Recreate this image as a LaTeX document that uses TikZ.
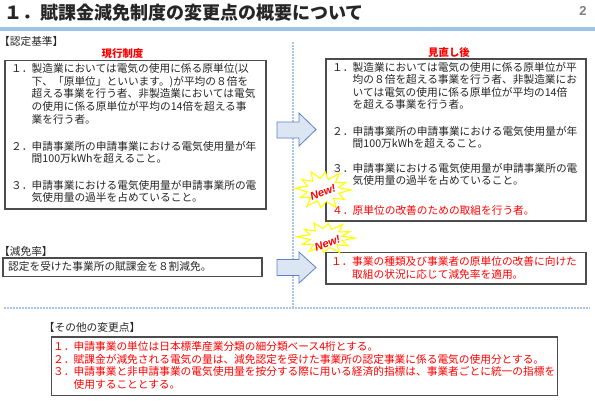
\documentclass[tikz,border=0pt]{standalone}
\usepackage{fontspec}
\setmainfont{Noto Sans CJK JP}
\newfontfamily\latinsans{Liberation Sans}
\definecolor{refred}{HTML}{FF0000}
\definecolor{lineblue}{HTML}{9DC3E6}
\definecolor{dotblue}{HTML}{A9C6E8}
\definecolor{arrowfill}{HTML}{DCE6F2}
\definecolor{arrowdraw}{HTML}{5B82C8}
\definecolor{burstyellow}{HTML}{FFFF00}
\definecolor{bodytext}{HTML}{262626}
\begin{document}
\begin{tikzpicture}[x=1bp,y=-1bp,
  txt/.style={anchor=west, inner sep=0pt, font=\fontsize{10.7bp}{13bp}\selectfont,
    text height=9.4bp, text depth=1.3bp, text=bodytext},
  redtxt/.style={txt, text=refred},
  headtxt/.style={inner sep=0pt, font=\fontsize{10.4bp}{12bp}\selectfont\bfseries,
    text height=9.2bp, text depth=1.2bp, text=refred},
  boxline/.style={draw=black!70, line width=1.2bp, fill=white},
  burst/.style={draw=burstyellow, line width=1.1bp, fill=white},
  newtxt/.style={inner sep=0pt, font=\latinsans\bfseries\itshape\fontsize{11bp}{11bp}\selectfont,
    text=refred, rotate=20},
  dotline/.style={draw=dotblue, line width=2bp, dash pattern=on 1.6bp off 1.4bp},
  blockarrow/.style={fill=arrowfill, draw=arrowdraw, line width=0.8bp, line join=miter}
]
\useasboundingbox (0,0) rectangle (595,403);
\fill[white] (0,0) rectangle (595,403);

% title
\node[anchor=west, inner sep=0pt, font=\fontsize{18bp}{18bp}\selectfont\bfseries,
  text height=15.8bp, text depth=2.2bp, text=bodytext] (title) at (4,13)
  {１．賦課金減免制度の変更点の概要について};
\node[inner sep=0pt, font=\latinsans\bfseries\fontsize{13bp}{13bp}\selectfont, text=black!50] (pagenum) at (583,10.5) {2};
\fill[lineblue] (0,26.5) rectangle (595,30.5);

% dotted separators
\draw[dotline] (293,42) -- (293,308);
\draw[dotline] (4,308) -- (590,308);

% boxes
\draw[boxline] (5,60.7) rectangle (266,209);
\draw[boxline] (326,59) rectangle (586,221);
\draw[boxline] (3,258) rectangle (262,276.5);
\draw[boxline] (326,252.5) rectangle (586,284);
\draw[boxline] (51.5,337) rectangle (557.5,395.5);

% block arrows
\draw[blockarrow] (277,122) -- (299,122) -- (299,113) -- (316,129.5) -- (299,146) -- (299,138) -- (277,138) -- cycle;
\draw[blockarrow] (277,259.5) -- (299,259.5) -- (299,252) -- (316,267.5) -- (299,283) -- (299,275.5) -- (277,275.5) -- cycle;

% bursts
\begin{scope}[shift={(323,190)}, xscale=28, yscale=20]
\draw[burst] (0:1) -- (16:.58) -- (32:.9) -- (47:.56) -- (62:1) -- (78:.58) -- (95:.88) -- (110:.56)
  -- (125:1) -- (140:.58) -- (155:.9) -- (170:.56) -- (185:1) -- (200:.58) -- (215:.92) -- (230:.56)
  -- (245:1) -- (260:.58) -- (275:.9) -- (290:.56) -- (305:1) -- (320:.58) -- (335:.9) -- (348:.56) -- cycle;
\end{scope}
\begin{scope}[shift={(326,238)}, xscale=29, yscale=16.5]
\draw[burst] (0:1) -- (16:.58) -- (32:.9) -- (47:.56) -- (62:1) -- (78:.58) -- (95:.88) -- (110:.56)
  -- (125:1) -- (140:.58) -- (155:.9) -- (170:.56) -- (185:1) -- (200:.58) -- (215:.92) -- (230:.56)
  -- (245:1) -- (260:.58) -- (275:.9) -- (290:.56) -- (305:1) -- (320:.58) -- (335:.9) -- (348:.56) -- cycle;
\end{scope}
\node[newtxt] (new1) at (323,192) {New!};
\node[newtxt] (new2) at (327.5,243.5) {New!};

% section labels
\node[txt] (lab1) at (-1,41.7) {【認定基準】};
\node[headtxt] (headL) at (122.5,53) {現行制度};
\node[headtxt] (headR) at (449,52.5) {見直し後};
\node[txt] (lab2) at (-1,251.7) {【減免率】};
\node[txt] (lab3) at (43.7,327.3) {【その他の変更点】};

% left box 1
\node[txt] (L1n) at (11,68) {１．};
\node[txt] (L1a) at (31.5,68) {製造業においては電気の使用に係る原単位(以};
\node[txt] (L1b) at (31.5,81) {下、「原単位」といいます。)が平均の８倍を};
\node[txt] (L1c) at (31.5,93.5) {超える事業を行う者、非製造業においては電気};
\node[txt] (L1d) at (31.5,106) {の使用に係る原単位が平均の14倍を超える事};
\node[txt] (L1e) at (31.5,119) {業を行う者。};
\node[txt] (L2n) at (11,146) {２．};
\node[txt] (L2a) at (31.5,146) {申請事業所の申請事業における電気使用量が年};
\node[txt] (L2b) at (31.5,158.5) {間100万kWhを超えること。};
\node[txt] (L3n) at (11,185) {３．};
\node[txt] (L3a) at (31.5,185) {申請事業における電気使用量が申請事業所の電};
\node[txt] (L3b) at (31.5,197.5) {気使用量の過半を占めていること。};

% right box 1
\node[txt] (R1n) at (332,67) {１．};
\node[txt] (R1a) at (352.5,67) {製造業においては電気の使用に係る原単位が平};
\node[txt] (R1b) at (352.5,79.5) {均の８倍を超える事業を行う者、非製造業にお};
\node[txt] (R1c) at (352.5,92) {いては電気の使用に係る原単位が平均の14倍};
\node[txt] (R1d) at (352.5,104.5) {を超える事業を行う者。};
\node[txt] (R2n) at (332,131) {２．};
\node[txt] (R2a) at (352.5,131) {申請事業所の申請事業における電気使用量が年};
\node[txt] (R2b) at (352.5,143.5) {間100万kWhを超えること。};
\node[txt] (R3n) at (332,168) {３．};
\node[txt] (R3a) at (352.5,168) {申請事業における電気使用量が申請事業所の電};
\node[txt] (R3b) at (352.5,180.5) {気使用量の過半を占めていること。};
\node[redtxt] (R4n) at (332,210) {４．};
\node[redtxt] (R4a) at (352.5,210) {原単位の改善のための取組を行う者。};

% left box 2
\node[txt] (M1) at (8,266.5) {認定を受けた事業所の賦課金を８割減免。};

% right box 2
\node[redtxt] (N1n) at (331,261.5) {１．};
\node[redtxt] (N1a) at (352,261.5) {事業の種類及び事業者の原単位の改善に向けた};
\node[redtxt] (N1b) at (352,274) {取組の状況に応じて減免率を適用。};

% bottom box
\node[redtxt] (B1n) at (53,346.5) {１．};
\node[redtxt] (B1a) at (73.5,346.5) {申請事業の単位は日本標準産業分類の細分類ベース4桁とする。};
\node[redtxt] (B2n) at (53,359) {２．};
\node[redtxt] (B2a) at (73.5,359) {賦課金が減免される電気の量は、減免認定を受けた事業所の認定事業に係る電気の使用分とする。};
\node[redtxt] (B3n) at (53,371.5) {３．};
\node[redtxt] (B3a) at (73.5,371.5) {申請事業と非申請事業の電気使用量を按分する際に用いる経済的指標は、事業者ごとに統一の指標を};
\node[redtxt] (B3b) at (73.5,384) {使用することとする。};
\end{tikzpicture}
\end{document}
